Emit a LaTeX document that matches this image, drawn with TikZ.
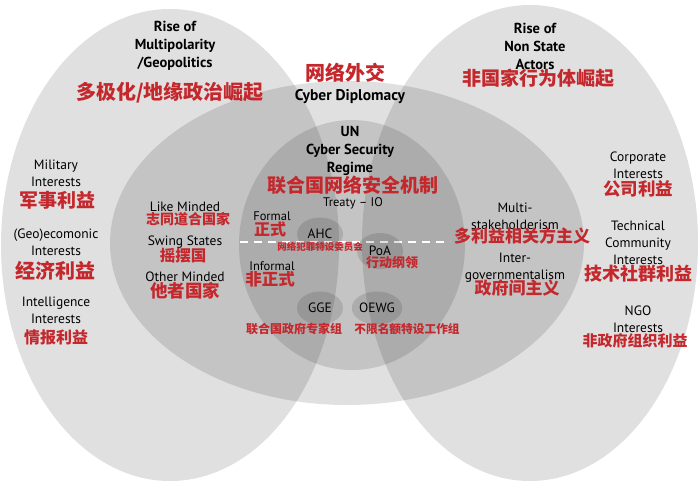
\documentclass[tikz,border=0pt]{standalone}
\usepackage{fontspec}
\setmainfont{PT Sans}
\newfontfamily\cjk{Noto Sans CJK SC}
\usetikzlibrary{shapes.geometric}
\definecolor{cnred}{HTML}{C4282D}
\tikzset{
  zone/.style={fill=black, fill opacity=0.12, draw=none},
  blob/.style={ellipse, fill=black, fill opacity=0.12, text opacity=1, minimum width=46pt, minimum height=33pt, inner sep=0pt, font=\fontsize{13.5}{15}\selectfont},
  lbl/.style={align=center, inner sep=0pt, font=\fontsize{13.5}{17}\selectfont},
  hdr/.style={align=center, inner sep=0pt, font=\bfseries\fontsize{14.5}{18}\selectfont},
  zh/.style={text=cnred, inner sep=0pt, font=\cjk\bfseries\fontsize{#1}{#1}\selectfont},
  zh/.default=18
}
\begin{document}
\begin{tikzpicture}[x=1pt, y=-1pt]
\useasboundingbox[fill=white] (0,0) rectangle (700,484);
% the four fields
\fill[zone] (170,245) ellipse [x radius=169, y radius=236];
\fill[zone] (530,243) ellipse [x radius=168, y radius=238];
\fill[zone] (347,243) ellipse [x radius=237, y radius=162];
\fill[zone] (352,245) ellipse [x radius=113, y radius=125];
% formal / informal line
\coordinate (dashL) at (240,242);
\coordinate (dashR) at (450,242);
\draw[white, line width=1.6pt, dash pattern=on 8pt off 6pt] (dashL) -- (dashR);

% left field
\node[hdr] (multi) at (175,46) {Rise of\\Multipolarity\\/Geopolitics};
\node[zh=20] (multizh) at (170,93) {多极化/地缘政治崛起};
\node[lbl] (milit) at (56,173) {Military\\Interests};
\node[zh=19] (militzh) at (57,200) {军事利益};
\node[lbl] (geoeco) at (56,242) {(Geo)ecomonic\\Interests};
\node[zh=20] (geoecozh) at (55,271) {经济利益};
\node[lbl] (intel) at (56,310) {Intelligence\\Interests};
\node[zh=16] (intelzh) at (56,337) {情报利益};

% middle field
\node[zh=20] (diplozh) at (345,73) {网络外交};
\node[hdr, font=\bfseries\fontsize{15.5}{18}\selectfont] (diplo) at (350,97) {Cyber Diplomacy};
\node[lbl] (like) at (185,207) {Like Minded};
\node[zh=14] (likezh) at (188,219) {志同道合国家};
\node[lbl] (swing) at (185,242) {Swing States};
\node[zh=15.5] (swingzh) at (183,256) {摇摆国};
\node[lbl] (other) at (185,277) {Other Minded};
\node[zh=17.5] (otherzh) at (185,291) {他者国家};
\node[lbl] (multist) at (515,216) {Multi-\\stakeholderism};
\node[zh=17] (multistzh) at (522,236) {多利益相关方主义};
\node[lbl] (intergov) at (515,268) {Inter-\\governmentalism};
\node[zh=17] (intergovzh) at (517,288) {政府间主义};

% UN regime
\node[hdr] (un) at (350,151) {UN\\Cyber Security\\Regime};
\node[zh=19] (unzh) at (353,185) {联合国网络安全机制};
\node[lbl, font=\fontsize{12.5}{15}\selectfont] (treaty) at (353,203) {Treaty -- IO};
\node[lbl, font=\fontsize{12.5}{14}\selectfont] (formal) at (272,216) {Formal};
\node[zh=16] (formalzh) at (270,229) {正式};
\node[lbl, font=\fontsize{12.5}{14}\selectfont] (informal) at (272,266) {Informal};
\node[zh=16.5] (informalzh) at (270,279) {非正式};
\node[blob] (ahc) at (320,234) {AHC};
\node[zh=9.5] (ahczh) at (320,247) {网络犯罪特设委员会};
\node[blob, minimum height=36pt] (poa) at (380,251) {PoA};
\node[zh=13] (poazh) at (392,263) {行动纲领};
\node[blob] (gge) at (320,308) {GGE};
\node[zh=12] (ggezh) at (294,329) {联合国政府专家组};
\node[blob] (oewg) at (377,308) {OEWG};
\node[zh=11.7] (oewgzh) at (407,329) {不限名额特设工作组};

% right field
\node[hdr] (nonstate) at (535,46) {Rise of\\Non State\\Actors};
\node[zh=19] (nonstatezh) at (538,78) {非国家行为体崛起};
\node[lbl] (corp) at (638,165) {Corporate\\Interests};
\node[zh=17.5] (corpzh) at (638,189) {公司利益};
\node[lbl] (tech) at (638,243) {Technical\\Community\\Interests};
\node[zh=18] (techzh) at (638,274) {技术社群利益};
\node[lbl] (ngo) at (638,319) {NGO\\Interests};
\node[zh=15] (ngozh) at (635,341) {非政府组织利益};
\end{tikzpicture}
\end{document}
